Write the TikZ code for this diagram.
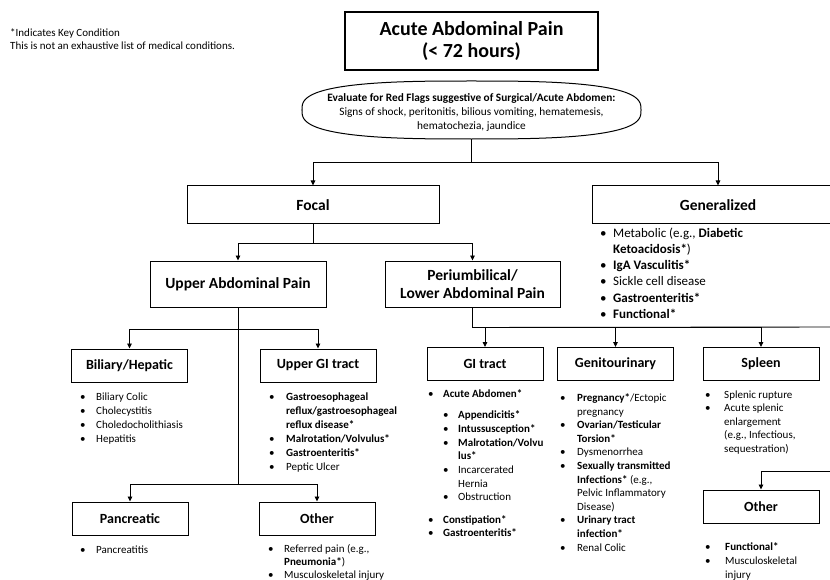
\documentclass[tikz,border=0pt]{standalone}
\usepackage{fontspec}
\setmainfont{Carlito}
\usetikzlibrary{shapes.geometric, arrows.meta}
\newlength{\bulind}
\newcommand{\itm}{\makebox[\bulind][l]{\textbullet}}
\newcommand{\cnt}{\hspace*{\bulind}}
\tikzstyle{box} = [rectangle, draw=black, line width=1pt, text centered, inner sep=0pt, font=\bfseries]
\tikzstyle{headbox} = [box, minimum width=252pt, minimum height=38pt, font={\fontsize{15.5}{18}\selectfont\bfseries}]
\tikzstyle{subbox} = [box, minimum width=116pt, minimum height=33pt, font={\fontsize{14}{16}\selectfont\bfseries}]
\tikzstyle{itemlist} = [anchor=north west, inner sep=0pt, align=left]
\tikzstyle{arrow} = [line width=0.9pt, ->, >={Triangle[length=5pt,width=4.5pt]}]

\begin{document}
\begin{tikzpicture}[x=1pt, y=-1pt]
\clip (0,0) rectangle (830,580);
\fill[white] (0,0) rectangle (830,580);

% Notes
\node[itemlist, font={\fontsize{11}{13}\selectfont}] (notes) at (10,28) {*Indicates Key Condition\\This is not an exhaustive list of medical conditions.};

% Top
\node[box, line width=1.2pt, minimum width=253pt, minimum height=58pt, align=center, font={\fontsize{20}{22}\selectfont\bfseries}] (title) at (471.5,41) {Acute Abdominal Pain\\(< 72 hours)};
\node[minimum width=339pt, minimum height=58pt, inner sep=0pt] (redflags) at (471.5,110) {};
\draw[line width=1pt, line join=round] plot[domain=0:360, samples=145] ({471.5+169.5*sign(cos(\x))*pow(abs(cos(\x))+0.0001,0.7)}, {110+29*sign(sin(\x))*pow(abs(sin(\x))+0.0001,0.7)});
\node[align=center, yshift=-2pt, font={\fontsize{11.3}{14}\selectfont}] (redflagstext) at (redflags.center) {\textbf{Evaluate for Red Flags suggestive of Surgical/Acute Abdomen:}\\Signs of shock, peritonitis, bilious vomiting, hematemesis,\\hematochezia, jaundice};

% Focal / Generalized
\node[headbox] (focal) at (313,205) {Focal};
\node[headbox] (general) at (718,205) {Generalized};
\node[headbox, minimum width=176pt, minimum height=46pt] (upper) at (238,284) {Upper Abdominal Pain};
\node[headbox, minimum width=175pt, minimum height=46pt, align=center] (lower) at (472.5,284) {Periumbilical/\\Lower Abdominal Pain};

% Sub categories
\node[subbox] (biliary) at (129.5,365.5) {Biliary/Hepatic};
\node[subbox] (uppergi) at (318,365.5) {Upper GI tract};
\node[subbox] (pancreatic) at (130,518.5) {Pancreatic};
\node[subbox] (otherup) at (317,518.5) {Other};
\node[subbox] (gitract) at (485,364) {GI tract};
\node[subbox] (genito) at (615.5,364) {Genitourinary};
\node[subbox] (spleen) at (761,364) {Spleen};
\node[subbox] (otherlow) at (761,506.5) {Other};

% Lists
\node[itemlist, font={\fontsize{13}{16.2}\selectfont\setlength{\bulind}{13pt}}] (generallist) at (600,227.5) {\itm Metabolic (e.g., \textbf{Diabetic}\\
\cnt\textbf{Ketoacidosis*})\\
\itm\textbf{IgA Vasculitis*}\\
\itm Sickle cell disease\\
\itm\textbf{Gastroenteritis*}\\
\itm\textbf{Functional*}};

\node[itemlist, font={\fontsize{11}{14}\selectfont\setlength{\bulind}{16pt}}] (biliarylist) at (80,392.5) {\itm Biliary Colic\\
\itm Cholecystitis\\
\itm Choledocholithiasis\\
\itm Hepatitis};

\node[itemlist, font={\fontsize{11}{14}\selectfont\setlength{\bulind}{17pt}}] (uppergilist) at (269,392.5) {\itm\textbf{Gastroesophageal}\\
\cnt\textbf{reflux/gastroesophageal}\\
\cnt\textbf{reflux disease*}\\
\itm\textbf{Malrotation/Volvulus*}\\
\itm\textbf{Gastroenteritis*}\\
\itm Peptic Ulcer};

\node[itemlist, font={\fontsize{11}{14}\selectfont\setlength{\bulind}{16pt}}] (pancreaticlist) at (80,545.5) {\itm Pancreatitis};

\node[itemlist, font={\fontsize{11}{13}\selectfont\setlength{\bulind}{16pt}}] (otheruplist) at (268,544.5) {\itm Referred pain (e.g.,\\
\cnt\textbf{Pneumonia*})\\
\itm Musculoskeletal injury};

\node[itemlist, font={\fontsize{11}{13.7}\selectfont\setlength{\bulind}{15pt}}] (gitractlist) at (428,389.5) {\itm\textbf{Acute Abdomen*}\\[7.5pt]
\cnt\itm\textbf{Appendicitis*}\\
\cnt\itm\textbf{Intussusception*}\\
\cnt\itm\textbf{Malrotation/Volvu}\\
\cnt\cnt\textbf{lus*}\\
\cnt\itm Incarcerated\\
\cnt\cnt Hernia\\
\cnt\itm Obstruction\\[8.5pt]
\itm\textbf{Constipation*}\\
\itm\textbf{Gastroenteritis*}};

\node[itemlist, font={\fontsize{11}{13.6}\selectfont\setlength{\bulind}{17pt}}] (genitolist) at (560,393.5) {\itm\textbf{Pregnancy*}/Ectopic\\
\cnt pregnancy\\
\itm\textbf{Ovarian/Testicular}\\
\cnt\textbf{Torsion*}\\
\itm Dysmenorrhea\\
\itm\textbf{Sexually transmitted}\\
\cnt\textbf{Infections*} (e.g.,\\
\cnt Pelvic Inflammatory\\
\cnt Disease)\\
\itm\textbf{Urinary tract}\\
\cnt\textbf{infection*}\\
\itm Renal Colic};

\node[itemlist, font={\fontsize{11}{13.5}\selectfont\setlength{\bulind}{19pt}}] (spleenlist) at (705,390.5) {\itm Splenic rupture\\
\itm Acute splenic\\
\cnt enlargement\\
\cnt (e.g., Infectious,\\
\cnt sequestration)};

\node[itemlist, font={\fontsize{11}{14}\selectfont\setlength{\bulind}{20pt}}] (otherlowlist) at (705,542.5) {\itm\textbf{Functional*}\\
\itm Musculoskeletal\\
\cnt injury};

% Connectors
\draw[arrow] (redflags.south) -- ++(0,23) -| (focal.north);
\draw[arrow] (redflags.south) -- ++(0,23) -| (general.north);
\draw[arrow] (focal.south) -- ++(0,19) -| (upper.north);
\draw[arrow] (focal.south) -- ++(0,19) -| (lower.north);
\draw[arrow] (upper.south) -- ++(0,22) -| (biliary.north);
\draw[arrow] (upper.south) -- ++(0,22) -| (uppergi.north);
\draw[arrow] (upper.south) -- ++(0,177) -| (pancreatic.north);
\draw[arrow] (upper.south) -- ++(0,177) -| (otherup.north);
\draw[arrow] (lower.south) -- ++(0,20) -| (gitract.north);
\draw[arrow] (lower.south) -- ++(0,20) -| (genito.north);
\draw[arrow] (lower.south) -- ++(0,20) -| (spleen.north);

% Off the right edge
\coordinate (edgetop) at (835,327);
\coordinate (edgelow) at (835,471);
\draw[line width=0.9pt] (lower.south) -- ++(0,20) -- (edgetop);
\draw[arrow] (edgelow) -| (otherlow.north);

\end{tikzpicture}
\end{document}
